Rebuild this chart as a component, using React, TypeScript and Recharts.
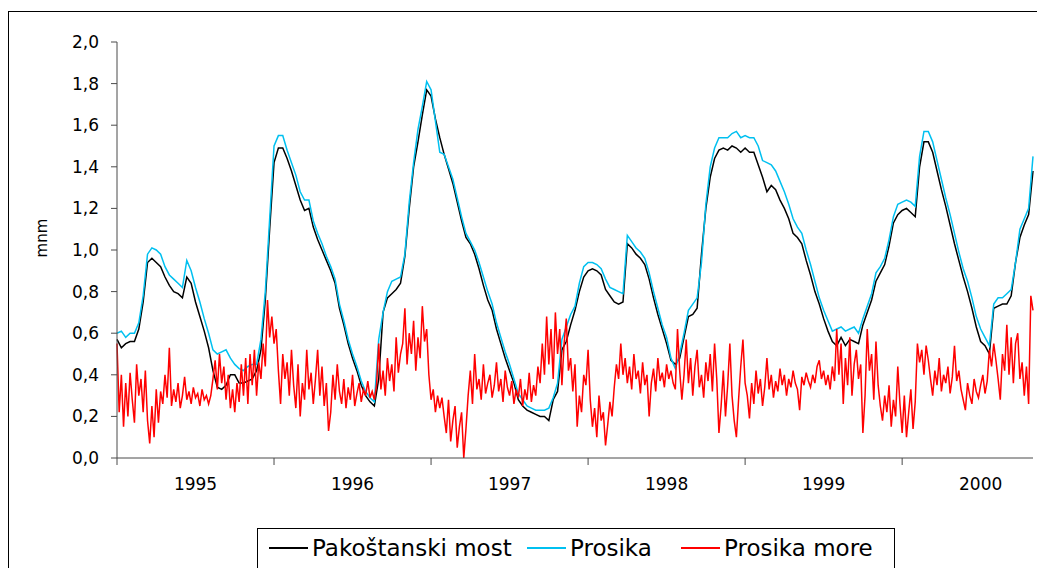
import { LineChart, Line, XAxis, YAxis } from 'recharts'

// water levels (mnm), one value every ~10 days from 1 Jan 1995
const START_YEAR = 1995
const LEVEL_STEP = 1 / 36
const SEA_STEP = 1 / 72

const pakostanskiMost = [
  0.57, 0.53, 0.55, 0.56, 0.56, 0.62, 0.75, 0.94, 0.96, 0.94,
  0.92, 0.87, 0.83, 0.80, 0.79, 0.77, 0.87, 0.84, 0.75, 0.68,
  0.61, 0.53, 0.42, 0.34, 0.33, 0.35, 0.40, 0.40, 0.36, 0.36,
  0.37, 0.38, 0.42, 0.52, 0.76, 1.10, 1.42, 1.49, 1.49, 1.44,
  1.38, 1.31, 1.24, 1.19, 1.20, 1.11, 1.05, 1.00, 0.95, 0.90,
  0.84, 0.72, 0.64, 0.55, 0.48, 0.42, 0.35, 0.30, 0.27, 0.25,
  0.38, 0.70, 0.77, 0.79, 0.81, 0.84, 0.97, 1.20, 1.40, 1.52,
  1.65, 1.77, 1.74, 1.63, 1.54, 1.46, 1.39, 1.32, 1.23, 1.14,
  1.06, 1.03, 0.98, 0.91, 0.83, 0.76, 0.71, 0.62, 0.55, 0.48,
  0.42, 0.36, 0.28, 0.25, 0.23, 0.22, 0.21, 0.20, 0.20, 0.18,
  0.28, 0.32, 0.52, 0.56, 0.64, 0.71, 0.80, 0.87, 0.90, 0.91,
  0.90, 0.88, 0.81, 0.78, 0.75, 0.74, 0.75, 1.03, 1.01, 0.98,
  0.96, 0.93, 0.86, 0.77, 0.69, 0.62, 0.55, 0.47, 0.45, 0.48,
  0.58, 0.68, 0.69, 0.72, 0.98, 1.20, 1.35, 1.44, 1.48, 1.49,
  1.48, 1.50, 1.49, 1.47, 1.49, 1.47, 1.47, 1.41, 1.35, 1.28,
  1.31, 1.29, 1.24, 1.20, 1.15, 1.08, 1.06, 1.03, 0.95, 0.88,
  0.80, 0.74, 0.67, 0.61, 0.56, 0.54, 0.58, 0.54, 0.57, 0.56,
  0.55, 0.64, 0.70, 0.76, 0.85, 0.89, 0.93, 1.02, 1.13, 1.17,
  1.19, 1.20, 1.18, 1.16, 1.40, 1.52, 1.52, 1.47, 1.38, 1.29,
  1.21, 1.12, 1.03, 0.95, 0.87, 0.80, 0.72, 0.63, 0.56, 0.54,
  0.50, 0.72, 0.73, 0.74, 0.74, 0.78, 0.94, 1.06, 1.12, 1.17,
  1.38,
]

const prosika = [
  0.60, 0.61, 0.58, 0.60, 0.60, 0.65, 0.78, 0.98, 1.01, 1.00,
  0.98, 0.92, 0.88, 0.86, 0.84, 0.82, 0.95, 0.90, 0.82, 0.75,
  0.67, 0.60, 0.52, 0.50, 0.51, 0.52, 0.48, 0.45, 0.43, 0.42,
  0.44, 0.45, 0.45, 0.57, 0.80, 1.15, 1.50, 1.55, 1.55, 1.48,
  1.42, 1.36, 1.28, 1.24, 1.24, 1.14, 1.08, 1.03, 0.97, 0.92,
  0.86, 0.74, 0.66, 0.57, 0.50, 0.44, 0.37, 0.32, 0.29, 0.27,
  0.57, 0.70, 0.80, 0.85, 0.86, 0.87, 0.98, 1.23, 1.42, 1.58,
  1.69, 1.81, 1.77, 1.62, 1.47, 1.46, 1.40, 1.34, 1.25, 1.16,
  1.08, 1.04, 1.00, 0.94, 0.87, 0.80, 0.74, 0.65, 0.58, 0.51,
  0.45, 0.38, 0.31, 0.28, 0.25, 0.24, 0.23, 0.23, 0.23, 0.24,
  0.29, 0.36, 0.57, 0.63, 0.69, 0.73, 0.84, 0.92, 0.94, 0.94,
  0.93, 0.91, 0.86, 0.82, 0.81, 0.80, 0.79, 1.07, 1.04, 1.01,
  0.99, 0.96, 0.89, 0.80, 0.72, 0.64, 0.58, 0.48, 0.43, 0.50,
  0.60, 0.71, 0.74, 0.77, 0.94, 1.22, 1.40, 1.49, 1.54, 1.54,
  1.54, 1.56, 1.57, 1.54, 1.55, 1.54, 1.54, 1.50, 1.43, 1.42,
  1.41, 1.38, 1.33, 1.28, 1.22, 1.15, 1.11, 1.08, 1.00, 0.93,
  0.85, 0.77, 0.71, 0.66, 0.61, 0.62, 0.63, 0.61, 0.62, 0.63,
  0.60, 0.67, 0.73, 0.79, 0.89, 0.92, 0.96, 1.05, 1.16, 1.22,
  1.23, 1.24, 1.23, 1.21, 1.45, 1.57, 1.57, 1.52, 1.43, 1.34,
  1.25, 1.17, 1.08, 0.99, 0.91, 0.85, 0.77, 0.68, 0.62, 0.58,
  0.54, 0.74, 0.77, 0.77, 0.79, 0.81, 0.94, 1.10, 1.15, 1.20,
  1.45,
]

// sea level at Prosika, one value every ~5 days
const prosikaMore = [
  0.55, 0.22, 0.40, 0.15, 0.36, 0.20, 0.41, 0.28, 0.17, 0.45, 0.30, 0.38,
  0.22, 0.42, 0.18, 0.07, 0.25, 0.10, 0.33, 0.17, 0.32, 0.26, 0.40, 0.29, 0.53, 0.25,
  0.33, 0.27, 0.36, 0.24, 0.30, 0.39, 0.28, 0.32, 0.26, 0.34, 0.29, 0.31, 0.25, 0.33, 0.28, 0.30, 0.26,
  0.30, 0.38, 0.47, 0.33, 0.50, 0.36, 0.44, 0.28, 0.40,
  0.24, 0.33, 0.22, 0.36, 0.27, 0.45, 0.30, 0.48, 0.26, 0.50,
  0.35, 0.52, 0.30, 0.46, 0.38, 0.55, 0.44, 0.76, 0.58, 0.68, 0.55, 0.62,
  0.42, 0.26, 0.50, 0.38, 0.46, 0.30, 0.52, 0.35,
  0.24, 0.45, 0.20, 0.36, 0.28, 0.52, 0.33, 0.41, 0.26,
  0.38, 0.52, 0.30, 0.44, 0.25, 0.36, 0.13, 0.22, 0.40, 0.28, 0.45,
  0.32, 0.26, 0.38, 0.24, 0.34, 0.28, 0.40, 0.25, 0.31, 0.36, 0.27, 0.33, 0.30, 0.37, 0.29, 0.32, 0.28,
  0.35, 0.55, 0.33, 0.42, 0.30, 0.48, 0.37, 0.45, 0.32, 0.58, 0.41, 0.50,
  0.55, 0.72, 0.45, 0.60, 0.50, 0.66, 0.42, 0.58, 0.48, 0.73, 0.56, 0.62,
  0.40, 0.28, 0.33, 0.22, 0.30, 0.24, 0.29,
  0.20, 0.12, 0.28, 0.08, 0.18, 0.25, 0.05, 0.15, 0.22, 0.00, 0.14,
  0.30, 0.42, 0.26, 0.50, 0.33, 0.38, 0.28, 0.45, 0.31, 0.36,
  0.40, 0.29, 0.35, 0.46, 0.32, 0.38, 0.27, 0.42, 0.34, 0.30, 0.37, 0.26, 0.33,
  0.29, 0.38, 0.25, 0.33, 0.28, 0.41, 0.27, 0.35, 0.30,
  0.44, 0.36, 0.55, 0.40, 0.68, 0.45, 0.62, 0.38, 0.70,
  0.50, 0.62, 0.35, 0.55, 0.67, 0.42, 0.48, 0.32, 0.45,
  0.15, 0.30, 0.22, 0.40, 0.35, 0.52,
  0.28, 0.15, 0.24, 0.10, 0.30, 0.18, 0.22, 0.06, 0.16, 0.27, 0.20,
  0.34, 0.45, 0.38, 0.55, 0.40, 0.48,
  0.36, 0.44, 0.33, 0.50, 0.38, 0.42, 0.31, 0.46, 0.35, 0.40, 0.20, 0.36, 0.43, 0.32, 0.48, 0.37, 0.41, 0.34, 0.45, 0.38, 0.42, 0.36,
  0.33, 0.62, 0.42, 0.28, 0.40,
  0.57, 0.36, 0.48, 0.30, 0.44, 0.52, 0.34, 0.40, 0.29, 0.46, 0.37, 0.50, 0.32, 0.55,
  0.38, 0.12, 0.25, 0.42, 0.20, 0.35, 0.55, 0.30, 0.18, 0.10, 0.28, 0.44, 0.57, 0.36,
  0.30, 0.19, 0.36, 0.26, 0.42, 0.31, 0.38, 0.25, 0.34, 0.48, 0.33, 0.40, 0.29,
  0.37, 0.32, 0.43, 0.35, 0.40, 0.30, 0.38, 0.34, 0.42, 0.36, 0.33, 0.23, 0.39, 0.35, 0.41, 0.37, 0.34, 0.40, 0.36, 0.44,
  0.47, 0.38, 0.42, 0.35, 0.40, 0.33, 0.44, 0.37,
  0.62, 0.40, 0.55, 0.26, 0.48, 0.35, 0.58, 0.30, 0.45, 0.52, 0.38,
  0.45, 0.12, 0.30, 0.62, 0.42, 0.50, 0.28, 0.56, 0.35,
  0.25, 0.18, 0.30, 0.22, 0.35, 0.15, 0.28, 0.20, 0.44, 0.26, 0.12, 0.30, 0.10, 0.22, 0.33, 0.14, 0.27,
  0.55, 0.46, 0.52, 0.40, 0.54, 0.47,
  0.38, 0.30, 0.42, 0.35, 0.48, 0.32, 0.40, 0.36, 0.44, 0.31, 0.39, 0.54, 0.37, 0.42,
  0.33, 0.28, 0.23, 0.36, 0.30, 0.26, 0.38, 0.32, 0.29, 0.35, 0.40, 0.31, 0.37,
  0.52, 0.44, 0.55, 0.47,
  0.38, 0.28, 0.50, 0.42, 0.64, 0.40, 0.58, 0.36, 0.55,
  0.60, 0.38, 0.46, 0.30, 0.44, 0.26,
  0.78, 0.71,
]

const yearTicks = [0, 0.5, 1, 1.5, 2, 2.5, 3, 3.5, 4, 4.5, 5, 5.5]
const levelTicks = [0, 0.2, 0.4, 0.6, 0.8, 1.0, 1.2, 1.4, 1.6, 1.8, 2.0]

const seriesNames = ['Pakoštanski most', 'Prosika', 'Prosika more']
const seriesColors = ['#000000', '#00c0f0', '#ff0000']

const levelRows = pakostanskiMost.map((v, i) => ({ t: i * LEVEL_STEP, most: v, prosika: prosika[i] }))
const seaRows = prosikaMore.map((v, i) => ({ t: i * SEA_STEP, more: v }))

const FONT = '"DejaVu Sans", Arial, sans-serif'
const AXIS_COLOR = '#4a4a4a'

// year boundaries get a tick mark, mid-years get the label
function YearTick({ x, y, payload }: { x?: number; y?: number; payload?: { value: number } }) {
  const v = payload?.value ?? 0
  if (Number.isInteger(v)) {
    return <line x1={x} x2={x} y1={y} y2={(y ?? 0) + 7} stroke={AXIS_COLOR} strokeWidth={1} />
  }
  return (
    <text x={x} y={(y ?? 0) + 32} textAnchor="middle" fontFamily={FONT} fontSize={17} fill="#000">
      {START_YEAR + Math.floor(v)}
    </text>
  )
}

export default function App() {
  const legendLeft = [11, 269, 423]
  return (
    <div style={{ position: 'absolute', left: 0, top: 0, width: 1037, height: 568, overflow: 'hidden', background: '#fff' }}>
      <div style={{ position: 'absolute', left: 8, top: 11, width: 1100, height: 600, border: '1px solid #000' }} />
      <div style={{ position: 'absolute', left: 0, top: 0 }}>
        <LineChart width={1037} height={568} margin={{ top: 42, right: 4, bottom: 80, left: 0 }}>
          <XAxis
            dataKey="t"
            type="number"
            domain={[0, 210 * LEVEL_STEP]}
            ticks={yearTicks}
            interval={0}
            tickLine={false}
            tickSize={0}
            tickMargin={0}
            height={30}
            stroke={AXIS_COLOR}
            tick={<YearTick />}
          />
          <YAxis
            type="number"
            domain={[0, 2]}
            ticks={levelTicks}
            interval={0}
            width={117}
            tickSize={6}
            tickMargin={12}
            stroke={AXIS_COLOR}
            tick={{ fill: '#000', fontSize: 17, fontFamily: FONT }}
            tickFormatter={(v: number) => v.toFixed(1).replace('.', ',')}
            label={{
              content: () => (
                <text x={42} y={238} transform="rotate(-90 42 238)" textAnchor="middle" dominantBaseline="central" fontFamily={FONT} fontSize={15} fill="#000">
                  mnm
                </text>
              ),
            }}
          />
          <Line data={levelRows} dataKey="most" name={seriesNames[0]} stroke={seriesColors[0]} strokeWidth={1.5} dot={false} activeDot={false} isAnimationActive={false} />
          <Line data={levelRows} dataKey="prosika" name={seriesNames[1]} stroke={seriesColors[1]} strokeWidth={1.5} dot={false} activeDot={false} isAnimationActive={false} />
          <Line data={seaRows} dataKey="more" name={seriesNames[2]} stroke={seriesColors[2]} strokeWidth={1.5} dot={false} activeDot={false} isAnimationActive={false} />
        </LineChart>
      </div>
      <div style={{ position: 'absolute', left: 257, top: 528, width: 638, height: 60, border: '1px solid #000', boxSizing: 'border-box', background: '#fff' }}>
        {seriesNames.map((name, i) => (
          <div key={name} style={{ position: 'absolute', left: legendLeft[i], top: 6, height: 26, display: 'flex', alignItems: 'center', fontFamily: FONT, fontSize: 23, whiteSpace: 'nowrap' }}>
            <span style={{ display: 'inline-block', width: 39, height: 0, borderTop: `2px solid ${seriesColors[i]}`, marginRight: 4 }} />
            <span>{name}</span>
          </div>
        ))}
      </div>
    </div>
  )
}
